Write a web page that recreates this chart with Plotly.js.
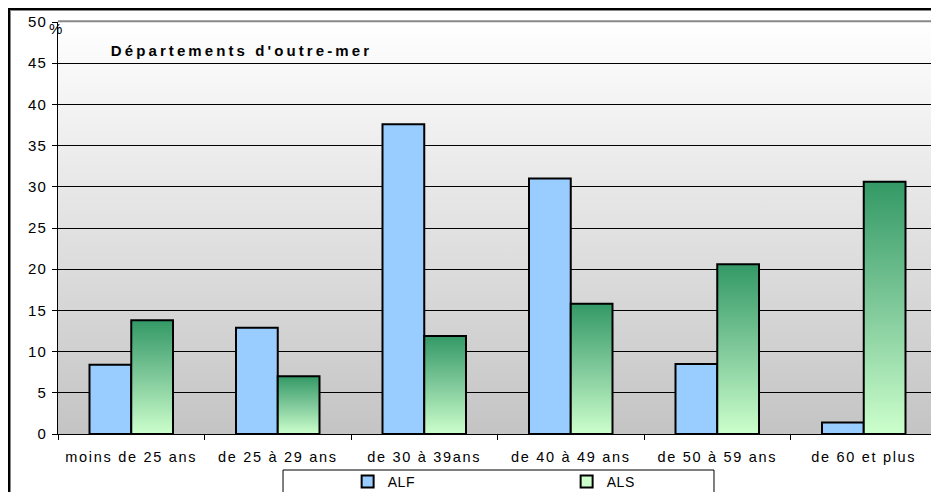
<!DOCTYPE html>
<html>
<head>
<meta charset="utf-8">
<script src="https://cdn.plot.ly/plotly-3.0.1.min.js"></script>
<style>
  html, body { margin:0; padding:0; background:#fff; overflow:hidden; width:931px; height:492px; }
  #frame { position:absolute; left:8px; top:8px; width:960px; height:520px; border:2px solid #000; box-shadow: inset 1px 1px 0 #888; }
  #chart { position:absolute; left:0; top:0; }
  .xtick text { letter-spacing:1.7px; }
  .ytick text { letter-spacing:1.2px; }
  .legendtext { letter-spacing:0.6px; }
  .annotation-text.ttl { letter-spacing:3.1px; }
</style>
</head>
<body>
<div id="frame"></div>
<div id="chart"></div>
<script>
const categories = ["moins de 25 ans", "de 25 à 29 ans", "de 30 à 39ans", "de 40 à 49 ans", "de 50 à 59 ans", "de 60 et plus"];
const alfValues = [8.4, 12.9, 37.6, 31.0, 8.5, 1.4];
const alsValues = [13.8, 7.0, 11.9, 15.8, 20.6, 30.6];
const yTickVals = [0, 5, 10, 15, 20, 25, 30, 35, 40, 45, 50];
const yTickText = ["0", "5", "10", "15", "20", "25", "30", "35", "40", "45", "50"];
const chartTitle = "Départements d'outre-mer";

const font = "Liberation Sans, Arial, sans-serif";

const traces = [
  { type:"bar", name:"ALF", x:categories, y:alfValues,
    marker:{ color:"#99CCFF", line:{ color:"#000", width:2 } }, hoverinfo:"none" },
  { type:"bar", name:"ALS", x:categories, y:alsValues,
    marker:{ color:"#CCFFCC", line:{ color:"#000", width:2 } }, hoverinfo:"none" }
];

const layout = {
  width:950, height:500,
  margin:{ l:58, r:13, t:22, b:66, autoexpand:false },
  paper_bgcolor:"rgba(0,0,0,0)",
  plot_bgcolor:"#E0E0E0",
  font:{ family:font, size:14, color:"#000" },
  barmode:"group", bargap:0.43, bargroupgap:0,
  showlegend:true,
  legend:{ orientation:"h", x:0.3295, xanchor:"left", y:-0.116, yanchor:"middle",
           entrywidth:174, entrywidthmode:"pixels", bgcolor:"rgba(0,0,0,0)",
           font:{ family:font, size:14, color:"#000" }, traceorder:"normal" },
  xaxis:{ type:"category", showgrid:false, showline:true, linecolor:"#000", linewidth:1,
          ticks:"outside", ticklen:5, tickcolor:"#000", tickson:"boundaries", ticklabelstandoff:10,
          tickfont:{ family:font, size:14.5, color:"#000" }, fixedrange:true, zeroline:false },
  yaxis:{ range:[0,50], tickvals:yTickVals, ticktext:yTickText, showgrid:true,
          gridcolor:"#000", gridwidth:1, showline:true, linecolor:"#000", linewidth:1,
          ticks:"outside", ticklen:5, tickcolor:"#000", zeroline:false, ticklabelstandoff:2,
          tickfont:{ family:font, size:15, color:"#000" }, fixedrange:true },
  shapes:[
    { type:"line", xref:"paper", yref:"paper", x0:0, x1:1.02, y0:1.002, y1:1.002,
      line:{ color:"#888", width:2 } },
    { type:"rect", xref:"paper", yref:"paper", x0:0.256, x1:0.7463, y0:-0.0874, y1:-0.2,
      line:{ color:"#000", width:1 }, fillcolor:"#fff", layer:"below" }
  ],
  annotations:[
    { text:chartTitle, xref:"paper", yref:"paper", x:0.2088, y:0.932, xanchor:"center", yanchor:"middle",
      showarrow:false, font:{ family:font, size:15, color:"#000", weight:"bold" } },
    { text:"%", xref:"paper", yref:"paper", x:-0.003, y:0.985, xanchor:"center", yanchor:"middle",
      showarrow:false, font:{ family:font, size:15, color:"#000" } }
  ]
};

Plotly.newPlot("chart", traces, layout, { staticPlot:true, displayModeBar:false }).then(function(gd){
  const svg = gd.querySelector(".main-svg");
  const NS = "http://www.w3.org/2000/svg";
  let defs = svg.querySelector("defs");
  if (!defs) { defs = document.createElementNS(NS, "defs"); svg.insertBefore(defs, svg.firstChild); }
  function grad(id, stops) {
    const g = document.createElementNS(NS, "linearGradient");
    g.setAttribute("id", id); g.setAttribute("x1","0"); g.setAttribute("y1","0");
    g.setAttribute("x2","0"); g.setAttribute("y2","1");
    stops.forEach(function(s){
      const st = document.createElementNS(NS, "stop");
      st.setAttribute("offset", s[0]); st.setAttribute("stop-color", s[1]);
      g.appendChild(st);
    });
    defs.appendChild(g);
  }
  grad("bgGrad", [["0","#FFFFFF"],["1","#C4C4C4"]]);
  grad("alsGrad", [["0","#339966"],["0.5","#80C99A"],["1","#CCFFCC"]]);
  const bg = svg.querySelector(".bglayer rect.bg");
  if (bg) bg.style.fill = "url(#bgGrad)";
  const barTraces = svg.querySelectorAll(".barlayer .trace.bars");
  if (barTraces[1]) barTraces[1].querySelectorAll(".point path").forEach(function(p){ p.style.fill = "url(#alsGrad)"; });
  const ann = svg.parentNode.querySelectorAll(".annotation-text");
  if (ann[0]) ann[0].classList.add("ttl");
});
</script>
</body>
</html>
